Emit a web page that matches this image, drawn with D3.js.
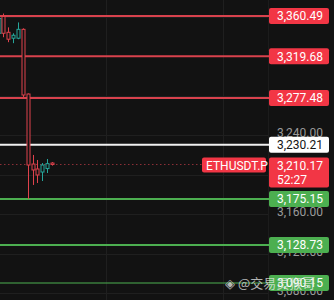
<!DOCTYPE html>
<meta charset="utf-8">
<style>
  body { margin: 0; background: #121212; }
  svg { display: block; }
  text { font-family: Roboto, "Noto Sans", sans-serif; font-size: 12px; }
</style>
<body>
<script src="https://d3js.org/d3.v7.min.js"></script>
<script>
  // candle data
  var opens  = [3343, 3360, 3344, 3338, 3338, 3347, 3281.5, 3210.6, 3205.6, 3202.5, 3206, 3211.6];
  var highs  = [3360, 3363, 3349, 3343, 3354, 3348, 3282, 3219.8, 3214.7, 3211.6, 3215.7, 3212.5];
  var lows   = [3341, 3339, 3334, 3333, 3337, 3278.5, 3175.2, 3189.4, 3191.4, 3193.4, 3201.5, 3209];
  var closes = [3358, 3343, 3337, 3341, 3347, 3280.5, 3209.6, 3204.6, 3199.5, 3209.6, 3211, 3210.17];

  // horizontal levels
  var levelPrices = [3360.49, 3319.68, 3277.48, 3230.21, 3175.15, 3128.73, 3090.15];
  var levelKinds  = ["res", "res", "res", "ref", "sup", "sup", "sup2"];

  var tickValues = [3080, 3120, 3160, 3200, 3240, 3280, 3320, 3360];
  var lastPrice = 3210.17;
  var symbol = "ETHUSDT.P";
  var countdown = "52:27";

  var W = 334, H = 300, axisX = 268;

  var svg = d3.select("body").append("svg")
      .attr("width", W)
      .attr("height", H);

  svg.append("rect").attr("width", W).attr("height", H).attr("fill", "#121212");

  var y = d3.scaleLinear().domain([3080, 3360]).range([293, 16.5]);
  var x = d3.scaleLinear().domain([0, 11]).range([-1.5, 52]);

  // grid
  svg.append("g").selectAll("line")
      .data(tickValues)
      .enter().append("line")
      .attr("x1", 0).attr("x2", axisX)
      .attr("y1", function(d) { return Math.round(y(d)) + 0.5; })
      .attr("y2", function(d) { return Math.round(y(d)) + 0.5; })
      .attr("stroke", "#1f1f1f");

  svg.append("g").selectAll("line")
      .data([106, 223])
      .enter().append("line")
      .attr("x1", function(d) { return d + 0.5; })
      .attr("x2", function(d) { return d + 0.5; })
      .attr("y1", 0).attr("y2", H)
      .attr("stroke", "#1f1f1f");

  svg.append("line")
      .attr("x1", axisX + 0.5).attr("x2", axisX + 0.5)
      .attr("y1", 0).attr("y2", H)
      .attr("stroke", "#1c1c1c");

  // price axis tick labels (the ones fully under a label box are hidden, as on the chart)
  var ly = y(lastPrice);
  var shownTicks = tickValues.filter(function(t) {
    var ty = y(t);
    if (ty > ly - 9 && ty < ly + 25) return false;
    return levelPrices.every(function(p) { return Math.abs(y(p) - ty) > 6; });
  });

  svg.append("g").selectAll("text")
      .data(shownTicks)
      .enter().append("text")
      .attr("x", 277)
      .attr("y", function(d) { return y(d) - 2; })
      .attr("dy", "0.35em")
      .attr("fill", "#9a9a9a")
      .text(function(d) { return d3.format(",.2f")(d); });

  // level lines
  var lineColor = { res: "#d8424d", ref: "#f0f0f0", sup: "#4caf50", sup2: "#4caf50" };
  var boxColor  = { res: "#f23645", ref: "#ffffff", sup: "#4caf50", sup2: "#4caf50" };
  var txtColor  = { res: "#ffffff", ref: "#131313", sup: "#ffffff", sup2: "#ffffff" };

  svg.append("g").selectAll("line")
      .data(levelPrices)
      .enter().append("line")
      .attr("x1", 0).attr("x2", 270)
      .attr("y1", function(d) { return y(d); })
      .attr("y2", function(d) { return y(d); })
      .attr("stroke", function(d, i) { return lineColor[levelKinds[i]]; })
      .attr("stroke-width", function(d, i) { return levelKinds[i] === "sup2" ? 1.2 : 2; });

  // current price dotted line
  svg.append("line")
      .attr("x1", 0).attr("x2", 202)
      .attr("y1", Math.round(ly) + 0.5)
      .attr("y2", Math.round(ly) + 0.5)
      .attr("stroke", "#8c2f37")
      .attr("stroke-dasharray", "1.5,2.5");

  // candles
  var candles = d3.range(opens.length).map(function(i) {
    return { i: i, o: opens[i], h: highs[i], l: lows[i], c: closes[i] };
  });

  var cg = svg.append("g").selectAll("g")
      .data(candles)
      .enter().append("g");

  function col(d) { return d.c >= d.o ? "#26a69a" : "#e0424c"; }

  cg.append("line")
      .attr("x1", function(d) { return Math.round(x(d.i)) + 0.5; })
      .attr("x2", function(d) { return Math.round(x(d.i)) + 0.5; })
      .attr("y1", function(d) { return y(d.h); })
      .attr("y2", function(d) { return y(d.l); })
      .attr("stroke", col);

  cg.append("rect")
      .attr("x", function(d) { return Math.round(x(d.i)) - 1; })
      .attr("width", 3)
      .attr("y", function(d) { return y(Math.max(d.o, d.c)); })
      .attr("height", function(d) { return Math.max(1, Math.abs(y(d.o) - y(d.c))); })
      .attr("fill", "#121212")
      .attr("stroke", col);

  // level labels on the price axis
  var lab = svg.append("g").selectAll("g")
      .data(levelPrices)
      .enter().append("g");

  lab.append("rect")
      .attr("x", 269).attr("width", 60)
      .attr("y", function(d) { return y(d) - 8; })
      .attr("height", 16).attr("rx", 2)
      .attr("fill", function(d, i) { return boxColor[levelKinds[i]]; });

  lab.append("text")
      .attr("x", 277)
      .attr("y", function(d) { return y(d); })
      .attr("dy", "0.36em")
      .attr("fill", function(d, i) { return txtColor[levelKinds[i]]; })
      .text(function(d) { return d3.format(",.2f")(d); });

  // last price label with countdown
  svg.append("rect")
      .attr("x", 269).attr("width", 60)
      .attr("y", ly - 7).attr("height", 30).attr("rx", 2)
      .attr("fill", "#f23645");
  svg.append("text")
      .attr("x", 277).attr("y", ly + 1).attr("dy", "0.35em")
      .attr("fill", "#ffffff")
      .text(d3.format(",.2f")(lastPrice));
  svg.append("text")
      .attr("x", 277).attr("y", ly + 15).attr("dy", "0.35em")
      .attr("fill", "#ffffff")
      .text(countdown);

  svg.append("rect")
      .attr("x", 202).attr("width", 64)
      .attr("y", ly - 7).attr("height", 15).attr("rx", 2)
      .attr("fill", "#f23645");
  svg.append("text")
      .attr("x", 206).attr("y", ly + 1).attr("dy", "0.35em")
      .attr("fill", "#ffffff")
      .text(symbol);

  // watermark
  svg.append("text")
      .attr("x", 225).attr("y", 283).attr("dy", "0.35em")
      .attr("fill", "rgba(235,235,235,0.75)")
      .style("font-family", "'Noto Sans CJK SC', sans-serif")
      .style("font-size", "13px")
      .text("◈ @交易员猴哥");
</script>
</body>
